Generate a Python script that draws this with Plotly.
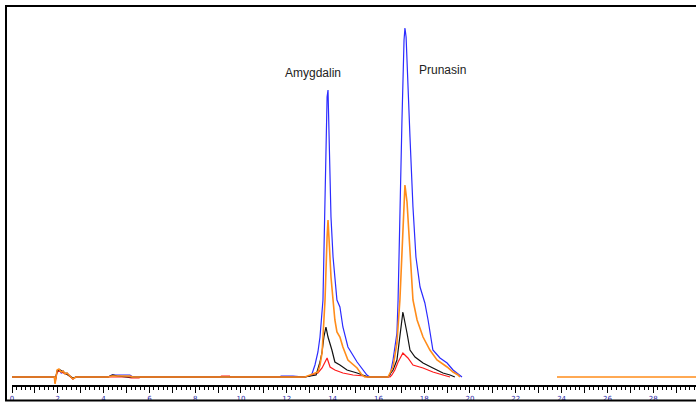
import plotly.graph_objects as go

# ---- data (time in min, signal in arbitrary units) ----
blue_t = [0, 1.85, 1.88, 1.97, 2.05, 2.15, 2.23, 2.32, 2.40, 2.53, 2.66, 2.79, 4.20, 4.35, 4.72, 5.15, 5.28,
          11.70, 11.75, 11.92, 12.27, 12.79, 13.01, 13.10, 13.23, 13.36, 13.45, 13.58, 13.67, 13.76, 13.80,
          13.84, 13.89, 13.93, 14.02, 14.10, 14.19, 14.32, 14.45, 14.67, 15.07, 15.50, 15.63,
          16.42, 16.51, 16.64, 16.81, 16.86, 16.94, 17.03, 17.12, 17.16, 17.21, 17.29, 17.38, 17.51, 17.64,
          17.82, 18.03, 18.17, 18.38, 18.69, 19.00, 19.26, 19.56, 19.65]
blue_v = [0, 0, -5, 6, 7, 4, 6, 3, 4, 1, -2, 0, 0, 2, 2, 2, 0,
          0, 1, 1, 1, 0, 1, 3, 12, 25, 40, 77, 200, 280, 287,
          250, 200, 160, 120, 95, 77, 70, 50, 30, 15, 2, 0,
          0, 2, 17, 44, 77, 177, 257, 337, 349, 340, 300, 240, 170, 120,
          90, 74, 57, 27, 19, 14, 7, 2, 0]

black_t = [0, 1.85, 1.88, 1.97, 2.10, 2.23, 2.40, 2.53, 2.66, 2.79, 4.20, 4.40, 4.60, 5.00,
           12.79, 13.28, 13.45, 13.54, 13.62, 13.71, 13.80, 13.97, 14.10, 14.32, 14.63, 15.07, 15.41, 15.55,
           16.42, 16.64, 16.81, 16.94, 17.07, 17.25, 17.38, 17.60, 17.95, 18.38, 18.82, 19.13, 19.34]
black_v = [0, 0, -4, 6, 7, 5, 3, 1, -1, 0, 0, 2, 1, 0,
           0, 2, 15, 25, 40, 50, 40, 27, 15, 12, 7, 4, 1, 0,
           0, 7, 17, 44, 65, 44, 27, 20, 14, 9, 4, 2, 0]

red_t = [0, 1.85, 1.88, 1.97, 2.10, 2.23, 2.40, 2.53, 2.66, 2.79, 5.00, 5.20, 5.55, 5.60,
         9.08, 9.15, 9.50, 9.52,
         12.79, 13.36, 13.54, 13.76, 13.89, 14.10, 14.45, 14.89, 15.41, 15.50,
         16.51, 16.59, 16.72, 16.86, 17.07, 17.29, 17.51, 17.95, 18.38, 18.82, 19.13]
red_v = [0, 0, -6, 5, 6, 4, 3, 0, -2, 0, 0, -1, -1, 0,
         0, 1, 1, 0,
         0, 4, 9, 19, 10, 7, 4, 2, 1, 0,
         0, 2, 7, 15, 24, 19, 12, 9, 5, 2, 0]

orange_t = [0, 1.85, 1.88, 1.97, 2.05, 2.15, 2.23, 2.32, 2.40, 2.53, 2.66, 2.79, 4.20, 4.35, 5.15, 5.28,
            12.79, 13.36, 13.45, 13.54, 13.58, 13.67, 13.76, 13.80, 13.84, 13.93, 14.02, 14.10, 14.19,
            14.32, 14.45, 14.67, 15.07, 15.28, 15.41,
            16.42, 16.64, 16.81, 16.94, 17.07, 17.16, 17.25, 17.34, 17.42, 17.51, 17.69, 17.95, 18.25,
            18.56, 19.00, 19.26, 19.48, 19.56, None, 23.80, 29.87]
orange_v = [0, 0, -7, 7, 8, 5, 6, 3, 4, 1, -2, 0, 0, 1, 1, 0,
            0, 5, 12, 24, 44, 77, 140, 157, 140, 100, 77, 57, 45,
            40, 30, 17, 9, 2, 0,
            0, 10, 34, 77, 150, 192, 175, 140, 105, 77, 57, 40, 27,
            17, 10, 5, 2, 0, None, 0, 0]

tick_vals = list(range(0, 30))
tick_text = [str(v) if v % 2 == 0 else "" for v in tick_vals]

peak_names = ["Amygdalin", "Prunasin"]
peak_label_t = [13.14, 18.82]
peak_label_v = [304, 307]

# ---- figure ----
fig = go.Figure()
for t, v, c, w in [(blue_t, blue_v, "#2b2bff", 1.2), (red_t, red_v, "#ff1a1a", 1.2),
                   (black_t, black_v, "#111111", 1.2), (orange_t, orange_v, "#ff8c1a", 1.6)]:
    fig.add_trace(go.Scatter(x=t, y=v, mode="lines", line=dict(color=c, width=w),
                             connectgaps=False, showlegend=False, hoverinfo="skip"))

for name, tx, ty in zip(peak_names, peak_label_t, peak_label_v):
    fig.add_annotation(x=tx, y=ty, text=name, showarrow=False,
                       font=dict(family="Liberation Sans, Arial", size=12, color="#222222"))

# frame lines (top, left, bottom)
frame = dict(type="line", xref="paper", yref="paper", line=dict(color="black", width=2))
fig.add_shape(**frame, x0=-0.0102, x1=1.0, y0=1.00265, y1=1.00265)
fig.add_shape(**frame, x0=-0.00877, x1=-0.00877, y0=1.0053, y1=-0.0423)
fig.add_shape(**frame, x0=-0.0102, x1=1.0, y0=-0.041, y1=-0.041)

fig.update_layout(
    width=696, height=403,
    margin=dict(l=12, r=0, t=7, b=18),
    paper_bgcolor="white", plot_bgcolor="white",
    xaxis=dict(range=[0, 29.87], showgrid=False, zeroline=False,
               showline=True, linecolor="black", linewidth=1.5,
               ticks="outside", ticklen=6, tickwidth=1, tickcolor="black",
               tickvals=tick_vals, ticktext=tick_text,
               tickfont=dict(family="DejaVu Sans", size=7, color="#2a2aa8"),
               minor=dict(dtick=0.2, tick0=0, ticks="outside", ticklen=3, tickwidth=1, tickcolor="black")),
    yaxis=dict(range=[-8, 370], visible=False, showgrid=False, zeroline=False),
)

fig.write_html("out.html", config={"displayModeBar": False},
               post_script="document.body.style.margin='0';document.body.style.overflow='hidden';")
